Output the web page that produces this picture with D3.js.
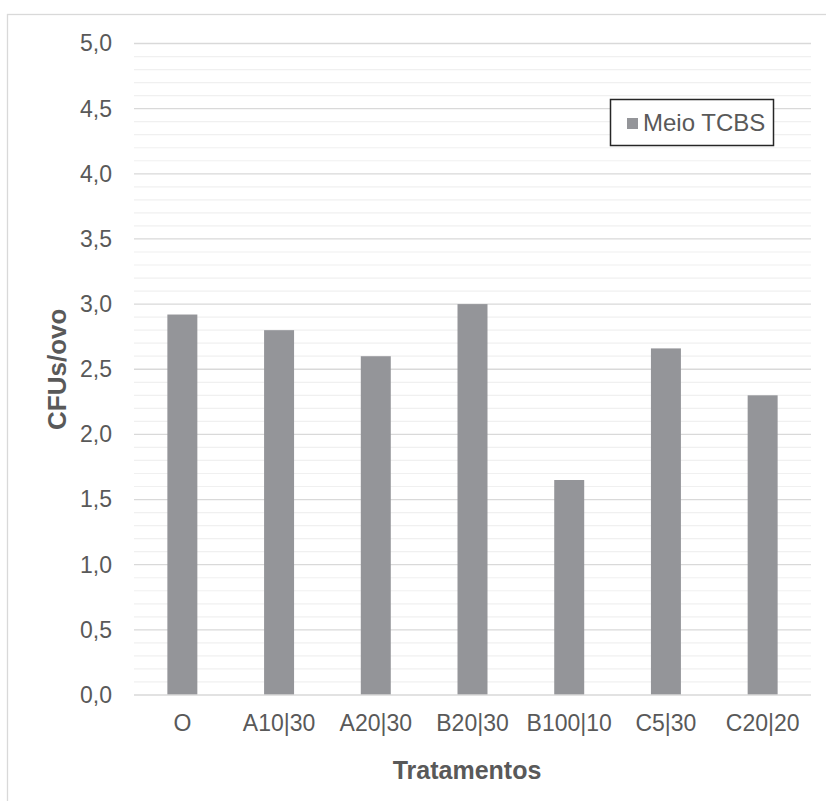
<!DOCTYPE html>
<html>
<head>
<meta charset="utf-8">
<script src="https://cdn.jsdelivr.net/npm/d3@7"></script>
<style>
  html, body { margin: 0; padding: 0; background: #fff; }
  svg { display: block; font-family: "Liberation Sans", Arial, sans-serif; }
</style>
</head>
<body>
<svg id="chart" width="826" height="801"></svg>
<script>
const categories = ["O", "A10|30", "A20|30", "B20|30", "B100|10", "C5|30", "C20|20"];
const values = [2.92, 2.80, 2.60, 3.00, 1.65, 2.66, 2.30];
const majorTicks = [0, 0.5, 1.0, 1.5, 2.0, 2.5, 3.0, 3.5, 4.0, 4.5, 5.0];
const minorTicks = d3.range(0, 51).map(i => i / 10);
const seriesName = "Meio TCBS";
const xTitle = "Tratamentos";
const yTitle = "CFUs/ovo";

const svg = d3.select("#chart");
const W = 826, H = 801;
const margin = { left: 134, right: 826 - 811, top: 43.5, bottom: 801 - 695 };
const textColor = "#595959";
const barColor = "#949599";

// outer frame
svg.append("rect")
  .attr("x", 7.5).attr("y", 14.5)
  .attr("width", 900).attr("height", 900)
  .attr("fill", "#fff").attr("stroke", "#d9d9d9").attr("stroke-width", 1.3);

const x = d3.scaleBand()
  .domain(categories)
  .range([margin.left, W - margin.right])
  .paddingInner(0.69)
  .paddingOuter(0.345);

const y = d3.scaleLinear()
  .domain([0, 5])
  .range([H - margin.bottom, margin.top]);

// minor gridlines
svg.append("g").selectAll("line")
  .data(minorTicks.filter(v => Math.round(v * 10) % 5 !== 0))
  .join("line")
  .attr("x1", margin.left).attr("x2", W - margin.right)
  .attr("y1", d => y(d)).attr("y2", d => y(d))
  .attr("stroke", "#f0f0f0").attr("stroke-width", 1.2);

// major gridlines
svg.append("g").selectAll("line")
  .data(majorTicks.filter(v => v > 0))
  .join("line")
  .attr("x1", margin.left).attr("x2", W - margin.right)
  .attr("y1", d => y(d)).attr("y2", d => y(d))
  .attr("stroke", "#d9d9d9").attr("stroke-width", 1.3);

// bars
svg.append("g").selectAll("rect")
  .data(values)
  .join("rect")
  .attr("x", (d, i) => x(categories[i]))
  .attr("width", x.bandwidth())
  .attr("y", d => y(d))
  .attr("height", d => y(0) - y(d))
  .attr("fill", barColor);

// x axis line
svg.append("line")
  .attr("x1", margin.left).attr("x2", W - margin.right)
  .attr("y1", y(0)).attr("y2", y(0))
  .attr("stroke", "#d9d9d9").attr("stroke-width", 1.3);

// y axis labels
const yAxis = d3.axisLeft(y)
  .tickValues(majorTicks)
  .tickFormat(d => d3.format(".1f")(d).replace(".", ","))
  .tickSize(0).tickPadding(22);
const gy = svg.append("g").attr("transform", `translate(${margin.left},0)`).call(yAxis);
gy.select(".domain").remove();
gy.selectAll("text").attr("fill", textColor).style("font-size", "23px")
  .attr("font-family", "Liberation Sans, Arial, sans-serif");

// x axis labels
const xAxis = d3.axisBottom(x).tickSize(0).tickPadding(20);
const gx = svg.append("g").attr("transform", `translate(0,${y(0)})`).call(xAxis);
gx.select(".domain").remove();
gx.selectAll("text").attr("fill", textColor).style("font-size", "23px")
  .attr("font-family", "Liberation Sans, Arial, sans-serif");

// axis titles
svg.append("text")
  .attr("x", 467)
  .attr("y", 779)
  .attr("text-anchor", "middle")
  .attr("fill", textColor)
  .style("font-size", "25px").style("font-weight", "bold")
  .text(xTitle);

svg.append("text")
  .attr("transform", `translate(66,${(y(0) + y(5)) / 2}) rotate(-90)`)
  .attr("text-anchor", "middle")
  .attr("fill", textColor)
  .style("font-size", "26px").style("font-weight", "bold")
  .text(yTitle);

// legend
const lg = svg.append("g");
lg.append("rect")
  .attr("x", 610.5).attr("y", 99.5).attr("width", 163).attr("height", 46)
  .attr("fill", "#fff").attr("stroke", "#262626").attr("stroke-width", 1.5);
lg.append("rect")
  .attr("x", 627).attr("y", 118).attr("width", 11).attr("height", 11)
  .attr("fill", barColor);
lg.append("text")
  .attr("x", 643).attr("y", 131)
  .attr("fill", textColor)
  .style("font-size", "24px")
  .text(seriesName);
</script>
</body>
</html>
